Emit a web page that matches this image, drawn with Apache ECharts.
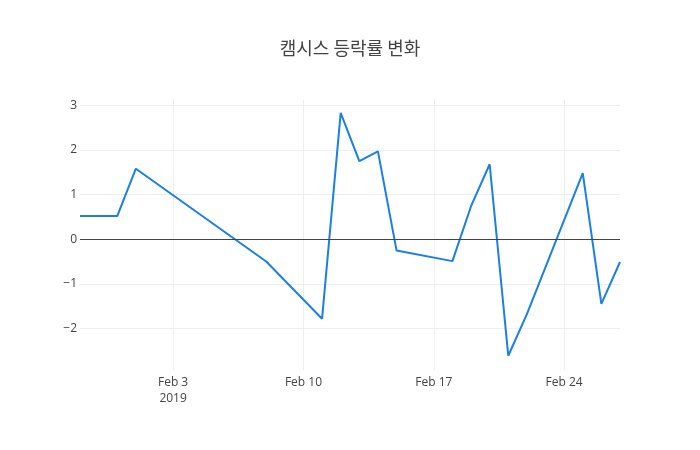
<!DOCTYPE html>
<html lang="ko">
<head>
  <meta charset="UTF-8">
  <title>캠시스 등락률 변화</title>
  <script src="https://cdn.jsdelivr.net/npm/echarts@6/dist/echarts.min.js"></script>
</head>
<body style="margin:0">
<div id="chart" style="width: 700px; height: 450px"></div>
<script>
  // dates and daily change rate (%)
  const dates = ['2019-01-29', '2019-01-31', '2019-02-01', '2019-02-08', '2019-02-11', '2019-02-12',
    '2019-02-13', '2019-02-14', '2019-02-15', '2019-02-18', '2019-02-19', '2019-02-20',
    '2019-02-21', '2019-02-22', '2019-02-25', '2019-02-26', '2019-02-27'];
  const rates = [0.52, 0.52, 1.58, -0.50, -1.78, 2.83,
    1.75, 1.97, -0.25, -0.49, 0.74, 1.68,
    -2.61, -1.68, 1.48, -1.45, -0.51];
  const xTicks = ['2019-02-03', '2019-02-10', '2019-02-17', '2019-02-24'];
  const yTicks = [-2, -1, 0, 1, 2, 3];

  const DAY = 86400000;
  const origin = Date.UTC(2019, 1, 3);
  const months = ['Jan', 'Feb', 'Mar', 'Apr', 'May', 'Jun', 'Jul', 'Aug', 'Sep', 'Oct', 'Nov', 'Dec'];

  function toDay(s) {
    const p = s.split('-').map(Number);
    return Math.round((Date.UTC(p[0], p[1] - 1, p[2]) - origin) / DAY);
  }

  const points = dates.map((d, i) => [toDay(d), rates[i]]);
  const xTickDays = xTicks.map(toDay);

  const chart = echarts.init(document.getElementById('chart'));
  chart.setOption({
    animation: false,
    textStyle: {fontFamily: 'Open Sans'},
    title: {
      text: '캠시스 등락률 변화',
      left: 'center',
      top: 34,
      textStyle: {fontFamily: 'Noto Sans CJK KR', fontSize: 18, fontWeight: 'normal', color: '#444'}
    },
    grid: {left: 80, right: 80, top: 100, bottom: 80},
    xAxis: {
      type: 'value',
      min: toDay(dates[0]),
      max: toDay(dates[dates.length - 1]),
      axisLine: {show: false},
      axisTick: {show: false, customValues: xTickDays},
      splitLine: {show: true, lineStyle: {color: '#eee', width: 1}},
      axisLabel: {
        customValues: xTickDays,
        color: '#444',
        fontSize: 12,
        margin: 5,
        lineHeight: 16,
        formatter: v => {
          const d = new Date(origin + v * DAY);
          let s = months[d.getUTCMonth()] + ' ' + d.getUTCDate();
          if (v === 0) s += '\n' + d.getUTCFullYear();
          return s;
        }
      }
    },
    yAxis: {
      type: 'value',
      min: -2.93,
      max: 3.12,
      axisLine: {show: false},
      axisTick: {show: false, customValues: yTicks},
      splitLine: {show: true, lineStyle: {color: '#eee', width: 1}},
      axisLabel: {
        customValues: yTicks,
        color: '#444',
        fontSize: 12,
        margin: 3,
        formatter: v => String(v).replace('-', '\u2212')
      }
    },
    series: [{
      type: 'line',
      data: points,
      symbol: 'none',
      lineStyle: {color: '#1a80e6', width: 2},
      markLine: {
        silent: true,
        symbol: 'none',
        label: {show: false},
        lineStyle: {color: '#444', width: 1, type: 'solid'},
        data: [{yAxis: 0}]
      }
    }]
  });
</script>
</body>
</html>
